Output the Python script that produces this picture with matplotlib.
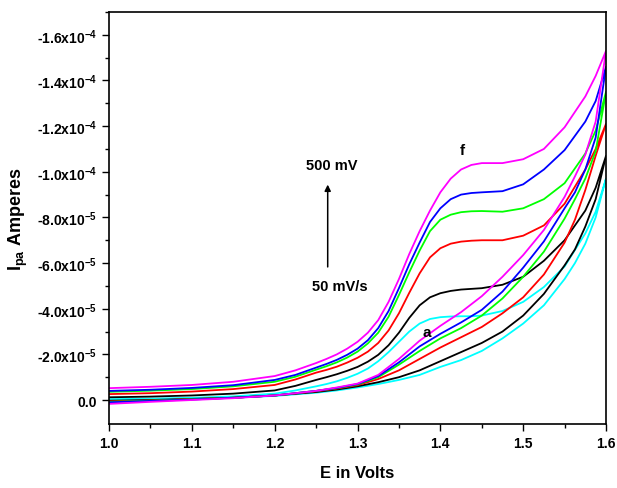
import matplotlib
matplotlib.use("Agg")
import matplotlib.pyplot as plt
import numpy as np

plt.rcParams["font.family"] = ["Liberation Sans", "DejaVu Sans"]
plt.rcParams["font.weight"] = "bold"
plt.rcParams["mathtext.fontset"] = "custom"
plt.rcParams["mathtext.rm"] = "Liberation Sans:bold"
plt.rcParams["mathtext.it"] = "Liberation Sans:bold"
plt.rcParams["mathtext.bf"] = "Liberation Sans:bold"
plt.rcParams["mathtext.default"] = "rm"

# potentials (V) for the anodic sweep and the return sweep
e_fwd = [1.0, 1.05, 1.1, 1.15, 1.2, 1.225,
         1.25, 1.2625, 1.275, 1.2875, 1.3, 1.3125, 1.325, 1.3375, 1.35,
         1.3625, 1.375, 1.3875, 1.4, 1.4125, 1.425, 1.4375, 1.45,
         1.475, 1.5, 1.525, 1.55, 1.575, 1.5875, 1.6]
e_rev = [1.6, 1.5875, 1.575, 1.5625, 1.55, 1.525, 1.5, 1.475, 1.45, 1.425,
         1.4, 1.375, 1.35, 1.325, 1.3, 1.275, 1.25, 1.2, 1.15, 1.1, 1.05, 1.0]

# currents in units of 1e-5 A (a = 50 mV/s ... f = 500 mV/s)
cyan_fwd = [-0.04, -0.06, -0.1, -0.16, -0.28, -0.42,
            -0.6, -0.7, -0.82, -0.97, -1.15, -1.38, -1.7, -2.1, -2.55,
            -3.0, -3.35, -3.55, -3.63, -3.66, -3.67, -3.67, -3.7,
            -3.9, -4.3, -4.95, -5.85, -7.3, -8.25, -9.7]
cyan_rev = [-9.7, -8.0, -6.85, -6.0, -5.3, -4.15, -3.35, -2.7, -2.15, -1.75,
            -1.45, -1.1, -0.88, -0.7, -0.55, -0.42, -0.32, -0.18, -0.1, -0.06,
            -0.01, 0.04]
black_fwd = [-0.12, -0.15, -0.2, -0.28, -0.42, -0.62,
             -0.88, -1.0, -1.13, -1.28, -1.45, -1.68, -1.98, -2.4, -2.95,
             -3.6, -4.15, -4.5, -4.68, -4.78, -4.84, -4.87, -4.9,
             -5.05, -5.4, -6.1, -7.0, -8.3, -9.3, -10.7]
black_rev = [-10.7, -8.8, -7.6, -6.6, -5.9, -4.65, -3.7, -3.0, -2.5, -2.1,
             -1.7, -1.3, -1.0, -0.78, -0.6, -0.46, -0.35, -0.2, -0.1, -0.05,
             0.0, 0.03]
red_fwd = [-0.26, -0.3, -0.37, -0.48, -0.66, -0.9,
           -1.2, -1.32, -1.46, -1.64, -1.85, -2.12, -2.5, -3.05, -3.8,
           -4.7, -5.55, -6.25, -6.65, -6.85, -6.94, -6.98, -7.0,
           -7.0, -7.2, -7.65, -8.6, -10.1, -11.0, -12.1]
red_rev = [-12.1, -10.7, -9.2, -7.9, -6.9, -5.5, -4.5, -3.8, -3.2, -2.75,
           -2.3, -1.8, -1.3, -0.92, -0.65, -0.5, -0.38, -0.2, -0.1, -0.04,
           0.02, 0.06]
green_fwd = [-0.36, -0.41, -0.48, -0.6, -0.8, -1.02,
             -1.33, -1.48, -1.65, -1.86, -2.12, -2.48, -2.95, -3.65, -4.6,
             -5.6, -6.55, -7.4, -7.9, -8.12, -8.23, -8.27, -8.28,
             -8.25, -8.4, -8.8, -9.5, -10.8, -11.8, -13.5]
green_rev = [-13.5, -10.9, -9.7, -8.8, -7.95, -6.5, -5.4, -4.45, -3.7, -3.15,
             -2.7, -2.15, -1.55, -1.0, -0.68, -0.52, -0.4, -0.2, -0.1, -0.03,
             0.03, 0.08]
blue_fwd = [-0.4, -0.45, -0.53, -0.65, -0.88, -1.1,
            -1.42, -1.58, -1.76, -1.98, -2.25, -2.62, -3.15, -3.9, -4.9,
            -5.95, -6.9, -7.8, -8.4, -8.8, -9.0, -9.07, -9.1,
            -9.15, -9.45, -10.1, -10.95, -12.2, -13.1, -14.6]
blue_rev = [-14.6, -11.5, -10.1, -9.1, -8.4, -6.95, -5.8, -4.75, -3.95, -3.4,
            -2.9, -2.35, -1.65, -1.05, -0.7, -0.53, -0.4, -0.2, -0.1, -0.02,
            0.04, 0.1]
magenta_fwd = [-0.52, -0.58, -0.66, -0.8, -1.05, -1.3,
               -1.62, -1.8, -2.0, -2.25, -2.55, -2.95, -3.5, -4.3, -5.3,
               -6.4, -7.4, -8.3, -9.1, -9.7, -10.1, -10.3, -10.38,
               -10.38, -10.55, -11.0, -11.95, -13.3, -14.2, -15.3]
magenta_rev = [-15.3, -12.2, -10.75, -9.8, -8.9, -7.45, -6.35, -5.4, -4.55, -3.85,
               -3.25, -2.6, -1.8, -1.1, -0.72, -0.55, -0.4, -0.2, -0.08, 0.0,
               0.08, 0.17]

curves = [
    ("#00FFFF", cyan_fwd, cyan_rev),
    ("black", black_fwd, black_rev),
    ("#FF0000", red_fwd, red_rev),
    ("#00FF00", green_fwd, green_rev),
    ("#0000FF", blue_fwd, blue_rev),
    ("#FF00FF", magenta_fwd, magenta_rev),
]

y_ticks = [0, -2e-5, -4e-5, -6e-5, -8e-5, -1.0e-4, -1.2e-4, -1.4e-4, -1.6e-4]
y_tick_labels = ["0.0", "-2.0x10$^{-5}$", "-4.0x10$^{-5}$", "-6.0x10$^{-5}$",
                 "-8.0x10$^{-5}$", "-1.0x10$^{-4}$", "-1.2x10$^{-4}$",
                 "-1.4x10$^{-4}$", "-1.6x10$^{-4}$"]

fig = plt.figure(figsize=(6.17, 4.89), dpi=100)
ax = fig.add_axes([0.1767, 0.1309, 0.8055, 0.8425])

for color, fwd, rev in curves:
    e = np.array(e_fwd + e_rev)
    i = np.array(fwd + rev) * 1e-5
    ax.plot(e, i, color=color, lw=1.3)

ax.set_xlim(1.0, 1.6)
ax.set_ylim(1.05e-5, -1.69e-4)
ax.set_xticks([1.0, 1.1, 1.2, 1.3, 1.4, 1.5, 1.6])
ax.set_xticks(np.arange(1.05, 1.6, 0.1), minor=True)
ax.set_yticks(y_ticks)
ax.set_yticklabels(y_tick_labels)
ax.set_yticks([-1e-5, -3e-5, -5e-5, -7e-5, -9e-5, -1.1e-4, -1.3e-4, -1.5e-4, -1.7e-4],
              minor=True)
ax.tick_params(which="major", direction="out", length=5, width=1, labelsize=10)
ax.tick_params(which="minor", direction="out", length=3, width=1)
for s in ax.spines.values():
    s.set_linewidth(1.2)

ax.set_xlabel("E in Volts", fontsize=12, fontweight="bold", labelpad=11)
ax.set_ylabel("I$_{pa}$ Amperes", fontsize=13, fontweight="bold", labelpad=5)

ax.text(1.269, -10.28e-5, "500 mV", fontsize=10.5, fontweight="bold",
        ha="center", va="center")
ax.text(1.279, -4.98e-5, "50 mV/s", fontsize=10.5, fontweight="bold",
        ha="center", va="center")
ax.annotate("", xy=(1.264, -9.56e-5), xytext=(1.264, -5.71e-5),
            arrowprops=dict(arrowstyle="-|>", color="black", lw=1.1,
                            mutation_scale=9))
ax.text(1.426, -10.94e-5, "f", fontsize=11, fontweight="bold",
        ha="center", va="center")
ax.text(1.383, -2.96e-5, "a", fontsize=11, fontweight="bold",
        ha="center", va="center")

fig.savefig("out.png", dpi=100)
